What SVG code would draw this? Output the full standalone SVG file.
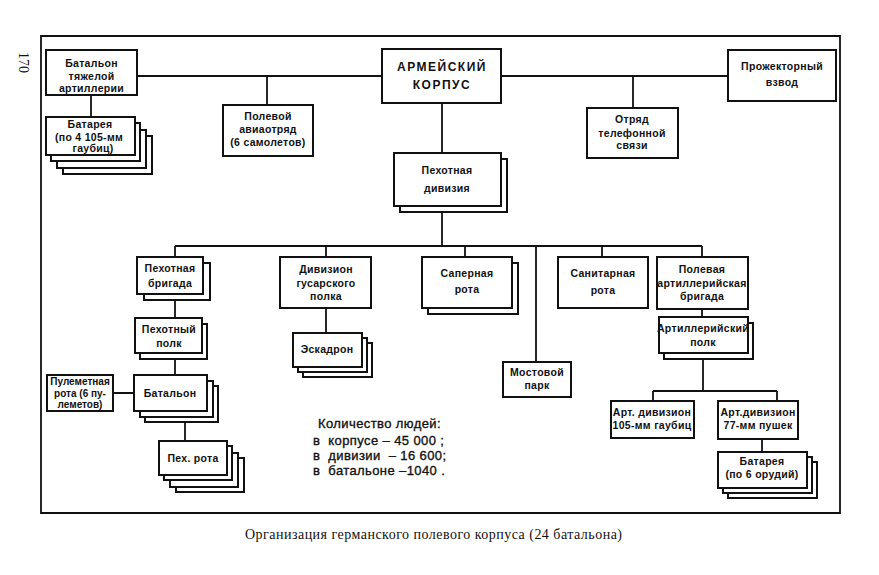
<svg xmlns="http://www.w3.org/2000/svg" width="879" height="575" viewBox="0 0 879 575">
<style>
.b{fill:#fff;stroke:#111;stroke-width:2}
.l{fill:none;stroke:#111;stroke-width:1.8}
.t{font-family:"Liberation Sans",Arial,sans-serif;font-weight:bold;font-size:10.5px;fill:#111;text-anchor:middle;letter-spacing:0.3px}
.big{font-size:12px;letter-spacing:1.5px}
.sm{font-size:10px;letter-spacing:0}
.n{font-family:"Liberation Sans",Arial,sans-serif;font-size:13px;fill:#111;stroke:#111;stroke-width:0.35;letter-spacing:0.4px;white-space:pre}
.cap{font-family:"Liberation Serif","Times New Roman",serif;font-size:14px;fill:#111}
</style>
<rect width="879" height="575" fill="#fff"/>
<path class="l" d="M41,36 H840 V513 H41 Z" stroke-width="2"/>
<text class="cap" transform="translate(19,52) rotate(90)" font-size="16">170</text>
<g id="connectors">
<path class="l" d="M137,76 H382 M501,76 H728 M91,95 V117 M267,76 V105 M633,76 V108 M442,103 V153 M442,206 V246 M175,246 H702 M175,246 V257 M326,246 V257 M465,246 V257 M536,246 V362 M602,246 V257 M702,246 V257 M175,294 V318 M175,353 V375 M113,393 H134 M185,411 V441 M326,308 V333 M702,309 V317 M703,353 V391 M653,391 H777 M653,391 V401 M777,391 V401 M762,439 V452"/>
</g>
<g id="n-tyazh"><rect class="b" x="46" y="50" width="91" height="45"/><text class="t" x="91.5" y="67">Батальон</text><text class="t" x="91.5" y="80">тяжелой</text><text class="t" x="91.5" y="92">артиллерии</text></g>
<g id="n-batareya1"><rect class="b" x="63" y="136" width="89" height="38"/><rect class="b" x="57" y="130" width="89" height="38"/><rect class="b" x="51" y="123" width="89" height="38"/><rect class="b" x="46" y="117" width="89" height="38"/><text class="t" x="90" y="128">Батарея</text><text class="t" x="89" y="141">(по 4 105-мм</text><text class="t" x="93" y="152">гаубиц)</text></g>
<g id="n-avia"><rect class="b" x="223" y="105" width="90" height="51"/><text class="t" x="268" y="120">Полевой</text><text class="t" x="268" y="133">авиаотряд</text><text class="t" x="268" y="146">(6 самолетов)</text></g>
<g id="n-korpus"><rect class="b" x="382" y="49" width="119" height="54"/><text class="t big" x="442" y="71">АРМЕЙСКИЙ</text><text class="t big" x="442" y="89">КОРПУС</text></g>
<g id="n-diviziya"><rect class="b" x="400" y="159" width="107" height="53"/><rect class="b" x="394" y="153" width="107" height="53"/><text class="t" x="447" y="174">Пехотная</text><text class="t" x="447" y="192">дивизия</text></g>
<g id="n-telefon"><rect class="b" x="587" y="108" width="91" height="50"/><text class="t" x="632" y="123">Отряд</text><text class="t" x="632" y="137">телефонной</text><text class="t" x="632" y="149">связи</text></g>
<g id="n-prozh"><rect class="b" x="728" y="50" width="108" height="51"/><text class="t" x="782" y="70">Прожекторный</text><text class="t" x="782" y="86">взвод</text></g>
<g id="n-brigada"><rect class="b" x="144" y="263" width="66" height="37"/><rect class="b" x="137" y="257" width="66" height="37"/><text class="t" x="170" y="272">Пехотная</text><text class="t" x="170" y="287">бригада</text></g>
<g id="n-polk"><rect class="b" x="140" y="324" width="67" height="35"/><rect class="b" x="135" y="318" width="67" height="35"/><text class="t" x="169" y="333">Пехотный</text><text class="t" x="169" y="347">полк</text></g>
<g id="n-batalon"><rect class="b" x="145" y="386" width="73" height="36"/><rect class="b" x="140" y="381" width="73" height="36"/><rect class="b" x="134" y="375" width="73" height="36"/><text class="t" x="170" y="397">Батальон</text></g>
<g id="n-pulemet"><rect class="b" x="47" y="375" width="66" height="36"/><text class="t sm" x="80" y="385">Пулеметная</text><text class="t sm" x="80" y="397">рота (6 пу-</text><text class="t sm" x="80" y="408">леметов)</text></g>
<g id="n-pehrota"><rect class="b" x="176" y="458" width="68" height="34"/><rect class="b" x="170" y="453" width="68" height="34"/><rect class="b" x="164" y="446" width="68" height="34"/><rect class="b" x="159" y="441" width="68" height="34"/><text class="t" x="193" y="462">Пех. рота</text></g>
<g id="n-gusar"><rect class="b" x="280" y="257" width="91" height="51"/><text class="t" x="326" y="273">Дивизион</text><text class="t" x="326" y="287">гусарского</text><text class="t" x="326" y="300">полка</text></g>
<g id="n-eskadron"><rect class="b" x="303" y="343" width="69" height="34"/><rect class="b" x="298" y="338" width="69" height="34"/><rect class="b" x="293" y="333" width="69" height="34"/><text class="t" x="327" y="353">Эскадрон</text></g>
<g id="n-saper"><rect class="b" x="428" y="263" width="90" height="51"/><rect class="b" x="422" y="257" width="90" height="51"/><text class="t" x="467" y="277">Саперная</text><text class="t" x="467" y="293">рота</text></g>
<g id="n-most"><rect class="b" x="503" y="362" width="68" height="35"/><text class="t" x="537" y="376">Мостовой</text><text class="t" x="537" y="389">парк</text></g>
<g id="n-sanit"><rect class="b" x="558" y="257" width="90" height="51"/><text class="t" x="603" y="277">Санитарная</text><text class="t" x="603" y="294">рота</text></g>
<g id="n-artbrig"><rect class="b" x="657" y="257" width="91" height="52"/><text class="t" x="702" y="273">Полевая</text><text class="t" x="702" y="287" letter-spacing="0">артиллерийская</text><text class="t" x="702" y="300">бригада</text></g>
<g id="n-artpolk"><rect class="b" x="664" y="323" width="89" height="36"/><rect class="b" x="659" y="317" width="89" height="36"/><text class="t" x="703" y="332" letter-spacing="0">Артиллерийский</text><text class="t" x="703" y="346">полк</text></g>
<g id="n-art105"><rect class="b" x="611" y="401" width="83" height="37"/><text class="t" x="652" y="416" letter-spacing="0">Арт. дивизион</text><text class="t" x="652" y="429" letter-spacing="0">105-мм гаубиц</text></g>
<g id="n-art77"><rect class="b" x="718" y="401" width="80" height="38"/><text class="t" x="758" y="416" letter-spacing="0">Арт.дивизион</text><text class="t" x="758" y="429">77-мм пушек</text></g>
<g id="n-batareya2"><rect class="b" x="728" y="462" width="89" height="36"/><rect class="b" x="723" y="457" width="89" height="36"/><rect class="b" x="718" y="452" width="89" height="36"/><text class="t" x="762" y="465">Батарея</text><text class="t" x="762" y="478">(по 6 орудий)</text></g>
<g id="counts">
<text class="n" x="318" y="428">Количество людей:</text>
<text class="n" x="313" y="445">в  корпусе – 45 000 ;</text>
<text class="n" x="313" y="460">в  дивизии  – 16 600;</text>
<text class="n" x="313" y="475">в  батальоне –1040 .</text>
</g>
<text class="cap" x="245" y="539" textLength="377" lengthAdjust="spacing">Организация германского полевого корпуса (24 батальона)</text>
</svg>
